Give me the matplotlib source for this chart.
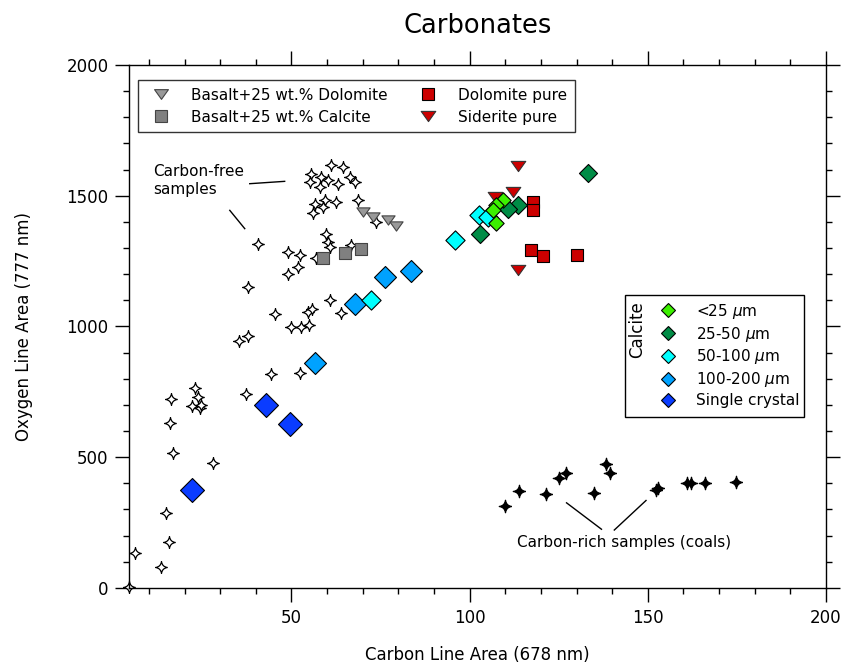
import numpy as np
import matplotlib
matplotlib.use("Agg")
import matplotlib.pyplot as plt
from matplotlib.path import Path
from matplotlib.lines import Line2D
from matplotlib.patches import Rectangle
from matplotlib.ticker import MultipleLocator

# Carbon-free samples (open stars)
free_x = [55.6, 61.2, 64.5, 55.1, 58.4, 60.2, 63.0, 66.3, 67.7, 57.9, 68.7, 56.5, 59.3, 62.6,
          56.0, 58.8, 73.8, 40.7, 59.8, 60.2, 60.7, 66.8, 57.0, 49.0, 52.3, 51.8, 49.0, 37.8,
          60.7, 45.3, 54.6, 55.9, 63.8, 50.0, 52.8, 54.9, 35.3, 37.8, 44.4, 52.5, 22.9, 23.8,
          22.0, 24.3, 24.5, 37.2, 28.0, 16.3, 15.9, 16.8, 14.7, 15.6, 6.1, 13.5, 4.5]
free_y = [1584, 1616, 1610, 1552, 1571, 1559, 1546, 1571, 1552, 1533, 1482, 1470, 1482, 1476,
          1432, 1457, 1399, 1317, 1355, 1323, 1304, 1310, 1260, 1285, 1272, 1227, 1200, 1151,
          1100, 1049, 1055, 1068, 1052, 998, 996, 1005, 945, 964, 816, 822, 763, 730,
          696, 686, 699, 740, 478, 724, 629, 514, 285, 176, 132, 78, 4]

# Carbon-rich samples (coals, filled stars)
coal_x = [109.8, 113.8, 121.5, 125.2, 127.1, 135.0, 138.3, 139.5, 153.0, 152.3, 160.9, 162.1, 166.0, 174.8]
coal_y = [312, 370, 359, 419, 438, 364, 473, 438, 380, 374, 402, 400, 402, 406]

# Basalt mixtures
bas_dol_x = [70.2, 72.9, 77.1, 79.4]
bas_dol_y = [1438, 1419, 1406, 1383]
bas_cal_x = [58.8, 64.9, 69.4]
bas_cal_y = [1260, 1281, 1295]

# Pure carbonates
dol_x = [117.9, 117.9, 117.3, 120.7, 130.1]
dol_y = [1476, 1444, 1294, 1271, 1272]
sid_x = [113.7, 112.1, 107.0, 113.7]
sid_y = [1612, 1514, 1495, 1215]

# Calcite grain sizes
cal25_x = [109.3, 107.5, 107.5, 106.5]
cal25_y = [1482, 1463, 1396, 1447]
cal50_x = [133.3, 113.5, 102.8, 110.7]
cal50_y = [1587, 1466, 1355, 1451]
cal100_x = [95.8, 102.6, 105.1, 72.2]
cal100_y = [1332, 1428, 1419, 1100]
cal200_x = [76.3, 83.5, 67.9, 56.5]
cal200_y = [1189, 1211, 1085, 861]
single_x = [43.0, 49.5, 22.0]
single_y = [699, 625, 374]

# 4-point star with concave sides
c = 0.12
star = Path([(1, 0), (c, c), (0, 1), (-c, c), (-1, 0), (-c, -c), (0, -1), (c, -c), (1, 0)],
            [Path.MOVETO, Path.CURVE3, Path.CURVE3, Path.CURVE3, Path.CURVE3,
             Path.CURVE3, Path.CURVE3, Path.CURVE3, Path.CURVE3])
tri = Path([(-1, 0.7), (1, 0.7), (0, -0.7), (-1, 0.7)],
           [Path.MOVETO, Path.LINETO, Path.LINETO, Path.CLOSEPOLY])

fig = plt.figure(figsize=(8.45, 6.69), dpi=100)
ax = fig.add_axes([0.153, 0.1214, 0.8245, 0.7814])

ax.scatter(free_x, free_y, marker=star, s=8.5**2, facecolor='white', edgecolor='black',
           linewidth=0.9, zorder=2, clip_on=False)
ax.scatter(coal_x, coal_y, marker=star, s=9**2, facecolor='black', edgecolor='black', linewidth=0.9, zorder=2)
ax.scatter(bas_dol_x, bas_dol_y, marker=tri, s=9.5**2, facecolor='#999999', edgecolor='#444444', linewidth=0.8, zorder=3)
ax.scatter(bas_cal_x, bas_cal_y, marker='s', s=9**2, facecolor='#808080', edgecolor='#444444', linewidth=0.8, zorder=3)
ax.scatter(dol_x, dol_y, marker='s', s=8.8**2, facecolor='#cc0000', edgecolor='black', linewidth=0.8, zorder=3)
ax.scatter(sid_x, sid_y, marker=tri, s=10.5**2, facecolor='#cc0000', edgecolor='#333333', linewidth=0.8, zorder=3)
ax.scatter(cal200_x, cal200_y, marker='D', s=11.2**2, facecolor='#00a2ff', edgecolor='black', linewidth=0.8, zorder=4)
ax.scatter(single_x, single_y, marker='D', s=12.2**2, facecolor='#0a3cff', edgecolor='black', linewidth=0.8, zorder=4)
ax.scatter(cal100_x, cal100_y, marker='D', s=9.8**2, facecolor='#00ffff', edgecolor='black', linewidth=0.8, zorder=4)
ax.scatter(cal50_x, cal50_y, marker='D', s=9.2**2, facecolor='#008c46', edgecolor='black', linewidth=0.8, zorder=5)
ax.scatter(cal25_x, cal25_y, marker='D', s=7.8**2, facecolor='#3cf000', edgecolor='black', linewidth=0.8, zorder=5)

ax.set_xlim(4.5, 200)
ax.set_ylim(0, 2000)
ax.xaxis.set_major_locator(MultipleLocator(50))
ax.xaxis.set_minor_locator(MultipleLocator(10))
ax.yaxis.set_major_locator(MultipleLocator(500))
ax.yaxis.set_minor_locator(MultipleLocator(100))
ax.tick_params(which='both', direction='out', top=True, right=True, width=1, labelsize=12)
ax.tick_params(which='major', length=10, pad=5)
ax.tick_params(which='minor', length=4.5)
for sp in ax.spines.values():
    sp.set_linewidth(1)

ax.set_title("Carbonates", fontsize=18.5, pad=23)
ax.set_xlabel("Carbon Line Area (678 nm)", fontsize=12, labelpad=14)
ax.set_ylabel("Oxygen Line Area (777 nm)", fontsize=12, labelpad=24)

# annotations
ax.text(0.034, 0.811, "Carbon-free\nsamples", transform=ax.transAxes, fontsize=11,
        va='top', ha='left', linespacing=1.3)
ax.plot([38.3, 48.1], [1546, 1555], color='black', lw=1)
ax.plot([32.7, 36.9], [1444, 1374], color='black', lw=1)
ax.text(143.4, 175, "Carbon-rich samples (coals)", fontsize=11, ha='center', va='center')
ax.plot([127.2, 137.0], [325, 224], color='black', lw=1)
ax.plot([149.5, 140.6], [334, 221], color='black', lw=1)

# top legend
h_top = [
    Line2D([], [], ls='', marker=tri, ms=10, mfc='#999999', mec='#444444', mew=0.8),
    Line2D([], [], ls='', marker='s', ms=8.5, mfc='#808080', mec='#444444', mew=0.8),
    Line2D([], [], ls='', marker='s', ms=8.5, mfc='#cc0000', mec='black', mew=0.8),
    Line2D([], [], ls='', marker=tri, ms=10.5, mfc='#cc0000', mec='#333333', mew=0.8),
]
l_top = ["Basalt+25 wt.% Dolomite", "Basalt+25 wt.% Calcite", "Dolomite pure", "Siderite pure"]
leg1 = ax.legend(h_top, l_top, ncol=2, loc='upper left', bbox_to_anchor=(0.0125, 0.971),
                 borderaxespad=0, fontsize=11, frameon=True, fancybox=False, edgecolor='black',
                 handletextpad=1.0, columnspacing=1.6, labelspacing=0.45, borderpad=0.5)
leg1.get_frame().set_linewidth(1)
ax.add_artist(leg1)

# calcite legend
h_cal = [
    Line2D([], [], ls='', marker='D', ms=7.5, mfc='#3cf000', mec='black', mew=0.8),
    Line2D([], [], ls='', marker='D', ms=7.5, mfc='#008c46', mec='black', mew=0.8),
    Line2D([], [], ls='', marker='D', ms=7.5, mfc='#00ffff', mec='black', mew=0.8),
    Line2D([], [], ls='', marker='D', ms=7.5, mfc='#00a2ff', mec='black', mew=0.8),
    Line2D([], [], ls='', marker='D', ms=7.5, mfc='#0a3cff', mec='black', mew=0.8),
]
l_cal = [r"<25 $\mu$m", r"25-50 $\mu$m", r"50-100 $\mu$m", r"100-200 $\mu$m", "Single crystal"]
leg2 = ax.legend(h_cal, l_cal, loc='upper left', bbox_to_anchor=(0.745, 0.556), borderaxespad=0,
                 fontsize=11, frameon=False, handletextpad=0.8, labelspacing=0.25, borderpad=0.3)
ax.add_patch(Rectangle((0.7115, 0.3267), 0.257, 0.2333, transform=ax.transAxes, fill=False,
                       edgecolor='black', lw=1, zorder=6))
ax.text(0.729, 0.493, "Calcite", transform=ax.transAxes, rotation=90, fontsize=12,
        ha='center', va='center')

fig.savefig("out.png", dpi=100)
